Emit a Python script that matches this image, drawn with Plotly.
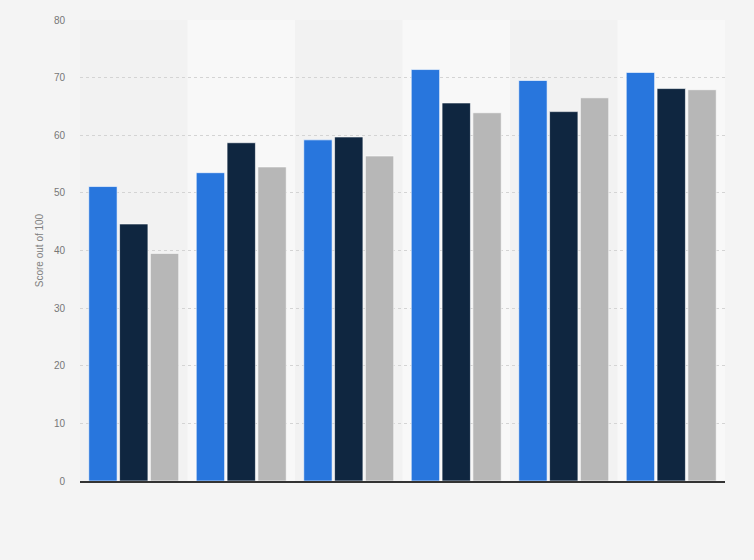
import plotly.graph_objects as go

# Chart data
categories = ["A", "B", "C", "D", "E", "F"]
series_names = ["Series 1", "Series 2", "Series 3"]
series_1 = [51.1, 53.5, 59.2, 71.4, 69.5, 70.9]
series_2 = [44.6, 58.7, 59.7, 65.6, 64.1, 68.1]
series_3 = [39.5, 54.5, 56.4, 63.9, 66.5, 67.9]
y_ticks = [0, 10, 20, 30, 40, 50, 60, 70, 80]

colors = ["#2876dd", "#0f2640", "#b7b7b7"]

fig = go.Figure()
for name, vals, col in zip(series_names, [series_1, series_2, series_3], colors):
    fig.add_trace(go.Bar(
        x=categories, y=vals, name=name,
        marker=dict(color=col, line=dict(color="rgba(255,255,255,0.6)", width=1)),
        showlegend=False,
    ))

# alternating background bands behind categories
for i in range(len(categories)):
    if i % 2 == 1:
        fig.add_shape(type="rect", xref="x", yref="paper",
                      x0=i - 0.5, x1=i + 0.5, y0=0, y1=1,
                      fillcolor="#f8f8f8", line=dict(width=0), layer="below")

fig.update_layout(
    width=754, height=560,
    paper_bgcolor="#f4f4f4", plot_bgcolor="#f2f2f2",
    margin=dict(l=80, r=29, t=20, b=79),
    barmode="group", bargap=0.14, bargroupgap=0.08,
    font=dict(family="Liberation Sans, Arial, sans-serif", color="#777777", size=10),
)
fig.update_xaxes(showticklabels=False, showgrid=False, ticks="",
                 showline=True, linecolor="#333333", linewidth=1.5,
                 range=[-0.5, len(categories) - 0.5])
fig.update_yaxes(range=[0, 80], tickvals=y_ticks, showgrid=True,
                 gridcolor="#d4d4d4", griddash="dot", gridwidth=1,
                 zeroline=False, ticks="", ticklabelstandoff=14,
                 title=dict(text="Score out of 100", font=dict(size=10, color="#808080"), standoff=8))

fig.write_html("out.html", config={"displayModeBar": False},
               post_script="document.body.style.margin='0';")
